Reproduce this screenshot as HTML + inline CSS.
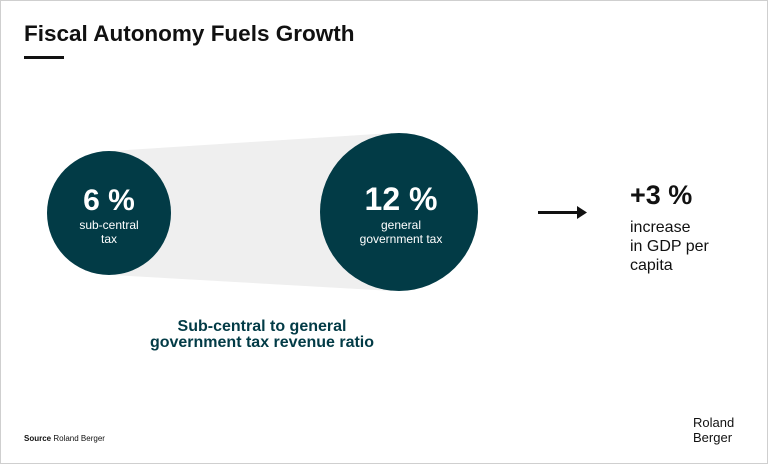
<!DOCTYPE html>
<html><head><meta charset="utf-8"><style>
html,body{margin:0;padding:0;background:#fff;}
body{width:768px;height:464px;overflow:hidden;}
svg text{font-family:"Liberation Sans",sans-serif;}
</style></head><body>
<svg width="768" height="464" viewBox="0 0 768 464" xmlns="http://www.w3.org/2000/svg">
<rect x="0.5" y="0.5" width="767" height="463" fill="#fff" stroke="#cfcfcf"/>
<text x="24" y="41" font-size="22.5" font-weight="bold" fill="#111">Fiscal Autonomy Fuels Growth</text>
<rect x="24" y="56" width="40" height="3" fill="#111"/>
<polygon points="112,151 392,133 392,291 112,275" fill="#efefef"/>
<circle cx="109" cy="213" r="62" fill="#023b46"/>
<circle cx="399" cy="212" r="79" fill="#023b46"/>
<text x="109" y="210" font-size="30" font-weight="bold" fill="#fff" text-anchor="middle">6 %</text>
<text x="109" y="229" font-size="12" fill="#fff" text-anchor="middle">sub-central</text>
<text x="109" y="243" font-size="12" fill="#fff" text-anchor="middle">tax</text>
<text x="401" y="210" font-size="32" font-weight="bold" fill="#fff" text-anchor="middle">12 %</text>
<text x="401" y="229" font-size="12" fill="#fff" text-anchor="middle">general</text>
<text x="401" y="243" font-size="12" fill="#fff" text-anchor="middle">government tax</text>
<text x="262" y="331" font-size="16" font-weight="bold" fill="#023b46" text-anchor="middle">Sub-central to general</text>
<text x="262" y="347" font-size="16" font-weight="bold" fill="#023b46" text-anchor="middle">government tax revenue ratio</text>
<rect x="538" y="211" width="40" height="3" fill="#111"/>
<polygon points="577,206 587,212.5 577,219" fill="#111"/>
<text x="630" y="204" font-size="27" font-weight="bold" fill="#111">+3 %</text>
<text x="630" y="232" font-size="16" fill="#111">increase</text>
<text x="630" y="251" font-size="16" fill="#111">in GDP per</text>
<text x="630" y="270" font-size="16" fill="#111">capita</text>
<text x="24" y="441" font-size="8" fill="#111"><tspan font-weight="bold">Source</tspan> Roland Berger</text>
<text x="693" y="427" font-size="13" fill="#111">Roland</text>
<text x="693" y="442" font-size="13" fill="#111">Berger</text>
</svg>
</body></html>
